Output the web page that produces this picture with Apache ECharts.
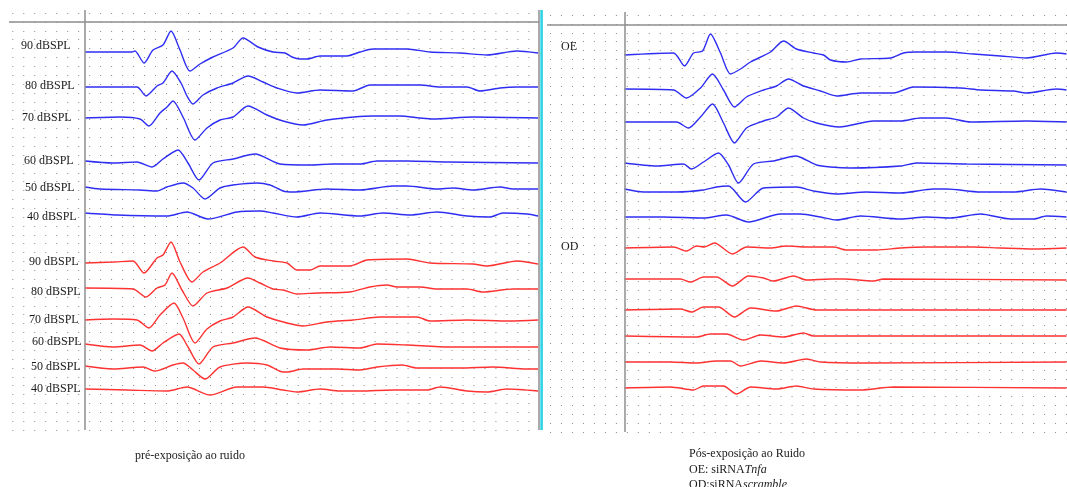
<!DOCTYPE html>
<html><head><meta charset="utf-8">
<script src="https://cdn.jsdelivr.net/npm/echarts@6/dist/echarts.min.js"></script>
<style>html,body{margin:0;padding:0;background:#fff}#c{width:1067px;height:487px}</style>
</head><body><div id="c"></div>
<script>
// ---- DATA (x: sample index after stimulus, y: trace level in display units) ----
const levels = ['90 dBSPL','80 dBSPL','70 dBSPL','60 dBSPL','50 dBSPL','40 dBSPL'];
const rightTags = ['OE','OD'];
const captionPre = 'pré-exposição ao ruido';
const captionPost = ['Pós-exposição ao Ruido','OE: siRNA','Tnfa','OD:siRNA','scramble'];

// Pre-exposure (left), blue group
const preBlue90 = [[0,378],[47,378],[50,379],[59,367],[68,380],[78,385],[86,399],[95,380],[105,359],[115,366],[128,373],[148,382],[158,392],[173,383],[188,378],[200,377],[207,373],[215,371],[222,371],[235,374],[262,374],[275,378],[288,381],[322,381],[345,378],[375,377],[402,375],[432,379],[453,377]];
const preBlue80 = [[0,343],[52,343],[61,334],[72,344],[78,347],[87,359],[96,347],[102,334],[108,326],[118,335],[132,342],[148,347],[163,354],[178,348],[192,342],[212,337],[235,340],[268,339],[285,345],[335,345],[355,343],[382,343],[395,339],[415,342],[432,343],[453,343]];
const preBlue70 = [[0,312],[35,313],[55,311],[64,304],[75,317],[82,323],[88,329],[98,313],[110,290],[122,302],[135,310],[148,313],[163,324],[182,315],[198,309],[218,305],[242,310],[288,314],[315,314],[335,312],[348,311],[388,313],[453,312]];
const preBlue60 = [[0,269],[28,267],[52,268],[67,263],[78,271],[93,280],[103,267],[114,250],[128,267],[148,271],[170,276],[195,266],[225,265],[248,266],[275,266],[292,269],[322,269],[362,268],[453,267]];
const preBlue50 = [[0,243],[15,241],[55,240],[72,239],[82,243],[98,247],[108,242],[120,231],[135,242],[148,245],[172,247],[185,245],[198,239],[208,238],[242,241],[275,240],[308,244],[322,244],[352,241],[368,242],[388,240],[415,243],[428,241],[453,241]];
const preBlue40 = [[0,217],[32,215],[82,214],[102,218],[123,211],[152,218],[175,219],[188,217],[212,213],[235,217],[275,214],[298,217],[325,215],[352,218],[382,214],[405,213],[418,217],[442,216],[453,214]];
// Pre-exposure (left), red group
const preRed90 = [[0,167],[28,168],[48,169],[59,157],[72,172],[78,175],[86,188],[95,168],[107,148],[118,158],[135,167],[158,183],[170,173],[188,169],[202,167],[212,160],[225,160],[235,164],[265,164],[282,170],[322,171],[345,167],[388,166],[402,164],[432,169],[453,166]];
const preRed80 = [[0,142],[48,141],[61,133],[72,142],[80,145],[87,157],[97,140],[108,124],[122,137],[142,142],[163,152],[175,147],[188,141],[198,140],[212,136],[232,137],[265,138],[285,143],[302,145],[312,143],[335,143],[352,141],[382,141],[398,138],[428,141],[453,141]];
const preRed70 = [[0,110],[28,111],[52,110],[64,102],[75,115],[89,127],[98,112],[110,87],[122,101],[135,109],[148,113],[163,123],[182,113],[202,107],[218,104],[242,108],[268,110],[295,113],[332,113],[345,109],[382,110],[425,109],[453,110]];
const preRed60 = [[0,86],[28,83],[55,85],[67,79],[78,87],[94,96],[103,83],[114,66],[128,83],[148,87],[170,92],[195,82],[222,80],[245,83],[275,82],[292,86],[322,85],[365,83],[453,83]];
const preRed50 = [[0,64],[28,61],[58,63],[70,59],[88,65],[98,67],[108,60],[120,51],[135,63],[162,67],[182,65],[198,58],[202,58],[218,61],[252,61],[275,60],[292,63],[317,65],[332,62],[375,62],[408,63],[442,61],[453,61]];
const preRed40 = [[0,41],[42,40],[82,39],[102,43],[125,35],[152,43],[178,43],[198,40],[212,38],[235,41],[255,39],[275,39],[308,40],[342,40],[355,43],[382,39],[402,38],[422,41],[453,39]];

// Post-exposure (right), OE blue group
const postOE90 = [[0,377],[49,379],[60,366],[69,379],[78,381],[86,398],[96,379],[106,358],[116,363],[126,370],[146,380],[159,391],[172,383],[189,379],[199,377],[206,372],[222,370],[236,373],[266,374],[279,379],[292,380],[322,380],[349,378],[376,376],[402,374],[432,379],[442,378]];
const postOE80 = [[0,343],[49,342],[62,334],[76,344],[88,358],[99,342],[110,325],[122,335],[139,342],[152,346],[164,353],[179,346],[196,341],[212,336],[236,339],[269,339],[289,345],[336,344],[356,342],[389,341],[402,339],[432,343],[442,342]];
const postOE70 = [[0,310],[52,310],[64,304],[76,315],[88,328],[99,309],[110,289],[122,304],[139,311],[152,315],[164,324],[179,314],[192,309],[215,305],[249,311],[276,311],[296,314],[322,314],[346,310],[402,311],[442,310]];
const postOE60 = [[0,269],[32,266],[59,268],[67,263],[79,270],[94,279],[104,267],[114,249],[129,268],[149,271],[171,276],[192,267],[206,265],[226,264],[276,266],[292,269],[342,268],[442,267]];
const postOE50 = [[0,243],[19,240],[52,240],[79,242],[92,245],[104,246],[121,230],[139,244],[172,245],[189,241],[212,238],[242,240],[276,239],[309,243],[322,243],[356,240],[389,240],[416,243],[442,240]];
const postOE40 = [[0,215],[39,215],[79,214],[102,217],[124,210],[156,218],[176,218],[196,215],[212,212],[236,216],[276,213],[302,215],[326,214],[356,218],[386,213],[409,213],[422,216],[442,215]];
// Post-exposure (right), OD red group
const postOD90 = [[0,184],[49,185],[62,181],[72,186],[80,185],[90,189],[108,178],[122,185],[146,184],[162,186],[182,185],[209,185],[222,182],[252,182],[276,184],[302,185],[349,185],[376,184],[409,183],[442,184]];
const postOD80 = [[0,153],[56,153],[66,150],[79,155],[92,155],[108,146],[124,156],[139,154],[149,151],[169,156],[182,152],[206,153],[219,153],[249,151],[259,153],[442,152]];
const postOD70 = [[0,122],[56,123],[67,120],[79,125],[94,125],[110,115],[126,124],[152,121],[172,126],[192,122],[209,122],[442,122]];
const postOD60 = [[0,96],[72,95],[86,98],[102,98],[119,92],[136,97],[159,95],[179,99],[189,96],[442,96]];
const postOD50 = [[0,70],[46,70],[72,69],[92,71],[106,71],[116,66],[136,71],[159,69],[182,73],[196,70],[242,69],[442,70]];
const postOD40 = [[0,44],[46,45],[69,42],[79,46],[99,46],[112,38],[126,45],[152,43],[172,46],[189,43],[236,42],[269,45],[442,44]];

// ---- LAYOUT / STYLE ----
const BLUE = '#2e2ef2', RED = '#ff3232', AXIS = '#8e8e8e', DOT = '#8a8a8a';
const serif = '"Liberation Serif","Times New Roman",serif';

const chart = echarts.init(document.getElementById('c'), null, {renderer: 'canvas'});

function trace(data, color, gi) {
  return {type: 'line', data, xAxisIndex: gi, yAxisIndex: gi, symbol: 'none', smooth: 0.25,
    lineStyle: {color, width: 1.4}, silent: true, animation: false, z: 3};
}
function frame(gi, topVal) {
  return {type: 'line', data: [], xAxisIndex: gi, yAxisIndex: gi, silent: true, animation: false,
    markLine: {symbol: 'none', silent: true, animation: false, label: {show: false},
      lineStyle: {color: AXIS, width: 1.5, type: 'solid'},
      data: [{xAxis: 0}, {yAxis: topVal}].concat(gi === 0 ? [{xAxis: 454}] : [])}};
}
function dotSplit(offset) {
  return {show: true, showMinLine: true, showMaxLine: false,
    lineStyle: {color: DOT, width: 1, type: [1, 9.98], dashOffset: offset}};
}

const leftBlue = [preBlue90, preBlue80, preBlue70, preBlue60, preBlue50, preBlue40];
const leftRed = [preRed90, preRed80, preRed70, preRed60, preRed50, preRed40];
const rightBlue = [postOE90, postOE80, postOE70, postOE60, postOE50, postOE40];
const rightRed = [postOD90, postOD80, postOD70, postOD60, postOD50, postOD40];

const series = [frame(0, 408), frame(1, 407)];
leftBlue.forEach(d => series.push(trace(d, BLUE, 0)));
leftRed.forEach(d => series.push(trace(d, RED, 0)));
rightBlue.forEach(d => series.push(trace(d, BLUE, 1)));
rightRed.forEach(d => series.push(trace(d, RED, 1)));

const labelPosBlue = [[21,46],[25,86],[22,118],[24,161],[25,188],[27,217]];
const labelPosRed = [[29,262],[31,292],[29,320],[32,342],[31,367],[31,389]];
const txt = (text, x, y, extra) => Object.assign({type: 'text', x, y, silent: true,
  style: {text, font: '12px ' + serif, fill: '#1a1a1a', verticalAlign: 'middle'}}, extra || {});
const graphics = [];
levels.forEach((t, i) => {
  graphics.push(txt(t, labelPosBlue[i][0], labelPosBlue[i][1]));
  graphics.push(txt(t, labelPosRed[i][0], labelPosRed[i][1]));
});
graphics.push(txt(rightTags[0], 561, 47));
graphics.push(txt(rightTags[1], 561, 247));
graphics.push(txt(captionPre, 135, 456));
graphics.push(txt(captionPost[0], 689, 454));
graphics.push({type: 'text', x: 689, y: 470, silent: true, style: {
  text: captionPost[1] + '{i|' + captionPost[2] + '}', font: '12px ' + serif, fill: '#1a1a1a',
  verticalAlign: 'middle', rich: {i: {fontStyle: 'italic', fontFamily: serif, fontSize: 12}}}});
graphics.push({type: 'text', x: 689, y: 485, silent: true, style: {
  text: captionPost[3] + '{i|' + captionPost[4] + '}', font: '12px ' + serif, fill: '#1a1a1a',
  verticalAlign: 'middle', rich: {i: {fontStyle: 'italic', fontFamily: serif, fontSize: 12}}}});
graphics.push({type: 'rect', silent: true, shape: {x: 540.3, y: 10, width: 2.6, height: 420},
  style: {fill: '#2fd3e6'}});

chart.setOption({
  animation: false,
  backgroundColor: '#fff',
  grid: [
    {left: 9, top: 10, width: 530, height: 420},
    {left: 547, top: 12, width: 520, height: 420}
  ],
  xAxis: [
    {type: 'value', gridIndex: 0, min: -76, max: 454, axisLine: {show: false}, axisTick: {show: false}, axisLabel: {show: false}, splitLine: {show: false}},
    {type: 'value', gridIndex: 1, min: -77.5, max: 442.5, axisLine: {show: false}, axisTick: {show: false}, axisLabel: {show: false}, splitLine: {show: false}}
  ],
  yAxis: [
    {type: 'value', gridIndex: 0, min: 0, max: 420, interval: 8.87, axisLine: {show: false}, axisTick: {show: false}, axisLabel: {show: false}, splitLine: dotSplit(7.68)},
    {type: 'value', gridIndex: 1, min: 0, max: 420, interval: 8.87, axisLine: {show: false}, axisTick: {show: false}, axisLabel: {show: false}, splitLine: dotSplit(7.98)}
  ],
  series,
  graphic: graphics
});
</script>
</body></html>
